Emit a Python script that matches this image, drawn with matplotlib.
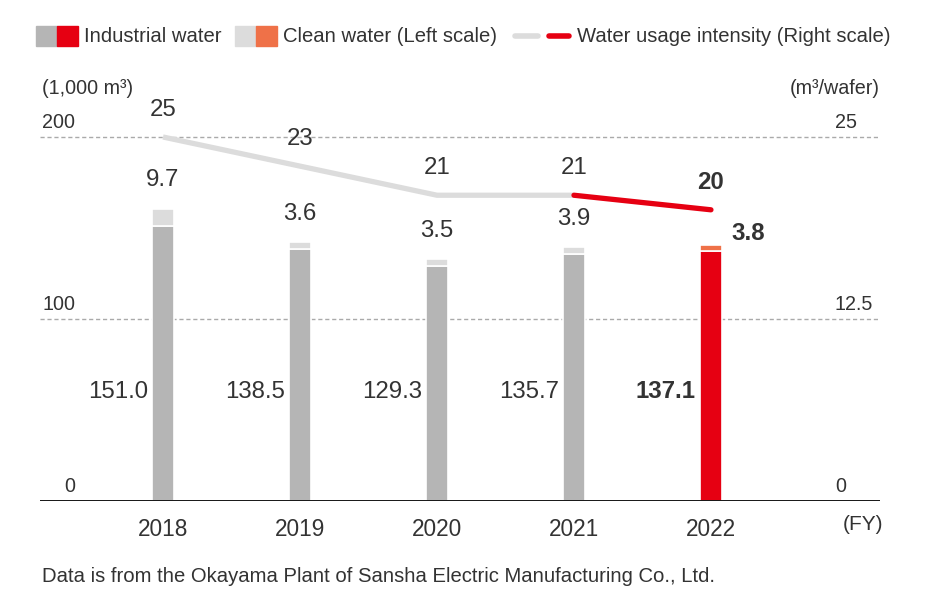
import numpy as np
import matplotlib.pyplot as plt
from matplotlib.patches import Rectangle
from matplotlib.lines import Line2D

plt.rcParams['font.family'] = ['Liberation Sans', 'DejaVu Sans']

years = ["2018", "2019", "2020", "2021", "2022"]
industrial = [151.0, 138.5, 129.3, 135.7, 137.1]
clean = [9.7, 3.6, 3.5, 3.9, 3.8]
intensity = [25, 23, 21, 21, 20]
left_ticks = [0, 100, 200]
right_ticks = [0, 12.5, 25]

txt = '#333333'
gray, lgray = '#b5b5b5', '#dcdcdc'
red, orange = '#e60012', '#ef7148'

fig = plt.figure(figsize=(9.4, 6.06), dpi=100)
ax = fig.add_axes([40/940, 105/606, 840/940, 409.5/606])
ax2 = ax.twinx()
ax2.set_position(ax.get_position())

x = np.arange(len(years))
n = len(years)
ind_col = [gray] * (n - 1) + [red]
cln_col = [lgray] * (n - 1) + [orange]
ax.bar(x, industrial, width=0.16, color=ind_col, edgecolor='white', linewidth=1.2, zorder=3)
ax.bar(x, clean, bottom=industrial, width=0.16, color=cln_col, edgecolor='white', linewidth=1.2, zorder=3)

ax.set_xlim(-0.898, 5.234)
ax.set_ylim(0, 225)
ax2.set_ylim(0, 225 / 8)

for v in left_ticks[1:]:
    ax.axhline(v, color='#aaaaaa', lw=1, ls=(0, (3, 2)), zorder=1)
ax.axhline(0, color='black', lw=2, zorder=4)

for a in (ax, ax2):
    for s in a.spines.values():
        s.set_visible(False)
    a.set_yticks([])
ax.set_xticks(x)
ax.set_xticklabels(years, fontsize=16.3, color=txt)
ax.tick_params(axis='x', length=0, pad=12)

# axis value labels sitting above gridlines
for v in left_ticks:
    ax.text((75-40)/840, v + 3, f"{v}", transform=ax.get_yaxis_transform(),
            ha='right', va='bottom', fontsize=14.2, color=txt)
for v in right_ticks:
    ax2.text((835-40)/840, v + 3/8, f"{v:g}", transform=ax2.get_yaxis_transform(),
             ha='left', va='bottom', fontsize=14.2, color=txt)

# intensity line
ax2.plot(x[:-1], intensity[:-1], color=lgray, lw=3.8, solid_capstyle='butt', zorder=5)
ax2.plot(x[-2:], intensity[-2:], color=red, lw=3.8, solid_capstyle='round', zorder=6)

for i in range(n):
    bold = 'bold' if i == n - 1 else 'normal'
    ax.text(x[i] - 0.11, 60, f"{industrial[i]:.1f}", ha='right', va='center',
            fontsize=17.3, color=txt, fontweight=bold, zorder=7)
    top = industrial[i] + clean[i]
    if i == n - 1:
        ax.text(x[i] + 0.15, top + 6, f"{clean[i]:.1f}", ha='left', va='center',
                fontsize=17.3, color=txt, fontweight='bold')
    else:
        ax.text(x[i], top + 15.5, f"{clean[i]:.1f}", ha='center', va='center',
                fontsize=17.3, color=txt)
    ax2.text(x[i], intensity[i] + 1.85, f"{intensity[i]}", ha='center', va='center',
             fontsize=17.3, color=txt, fontweight=bold, zorder=7)

# overlay in pixel coordinates for legend and notes
ov = fig.add_axes([0, 0, 1, 1], zorder=10)
ov.set_xlim(0, 940)
ov.set_ylim(606, 0)
ov.axis('off')
ov.patch.set_alpha(0)

ov.add_patch(Rectangle((36, 26), 21, 20, color=gray))
ov.add_patch(Rectangle((57, 26), 21, 20, color=red))
ov.text(84, 36, "Industrial water", fontsize=14.6, color=txt, va='center')
ov.add_patch(Rectangle((235, 26), 21, 20, color=lgray))
ov.add_patch(Rectangle((256, 26), 21, 20, color=orange))
ov.text(283, 36, "Clean water (Left scale)", fontsize=14.6, color=txt, va='center')
ov.add_line(Line2D([515, 538], [36, 36], color=lgray, lw=4, solid_capstyle='round'))
ov.add_line(Line2D([549, 569], [36, 36], color=red, lw=4, solid_capstyle='round'))
ov.text(577, 36, "Water usage intensity (Right scale)", fontsize=14.6, color=txt, va='center')

ov.text(42, 88, "(1,000 m³)", fontsize=14.2, color=txt, va='center', ha='left')
ov.text(880, 88, "(m³/wafer)", fontsize=14.2, color=txt, va='center', ha='right')
ov.text(883, 525, "(FY)", fontsize=15, color=txt, va='center', ha='right')
ov.text(42, 577, "Data is from the Okayama Plant of Sansha Electric Manufacturing Co., Ltd.",
        fontsize=14.6, color=txt, va='center', ha='left')

fig.savefig("out.png", dpi=100)
